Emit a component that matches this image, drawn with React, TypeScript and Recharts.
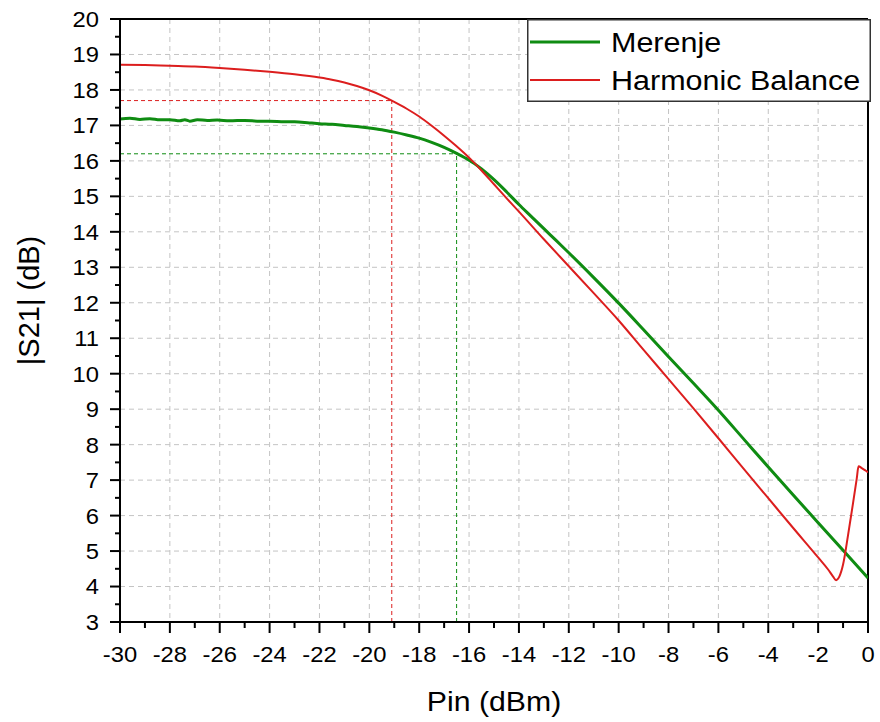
import React from 'react';
import { LineChart, Line, XAxis, YAxis, CartesianGrid, ReferenceLine, Legend } from 'recharts';

// Merenje (measurement)
const pinMeas = [-30, -29.6, -29.2, -28.8, -28.4, -28, -27.6, -27.4, -27.2, -26.9, -26.5, -26.1, -25.6, -25, -24.4, -24, -23.4, -23, -22.4, -22, -21.5, -21, -20.5, -20, -19.5, -19, -18.5, -18, -17.5, -17, -16.5, -16, -15.8, -15.5, -15, -14.5, -14, -13.5, -13, -12.5, -12, -11, -10, -9, -8, -7, -6, -5, -4, -3, -2, -1, 0];
const s21Meas = [17.18, 17.2, 17.17, 17.19, 17.16, 17.16, 17.13, 17.16, 17.12, 17.16, 17.14, 17.15, 17.13, 17.14, 17.12, 17.12, 17.1, 17.1, 17.07, 17.05, 17.03, 17.0, 16.97, 16.93, 16.88, 16.81, 16.73, 16.64, 16.52, 16.38, 16.21, 16.02, 15.93, 15.77, 15.47, 15.13, 14.77, 14.43, 14.09, 13.75, 13.41, 12.71, 11.99, 11.24, 10.48, 9.73, 8.97, 8.17, 7.37, 6.58, 5.8, 5.02, 4.24];

// Harmonic Balance (simulation)
const pinHB = [-30, -29, -28, -27, -26, -25, -24, -23, -22, -21.5, -21, -20.5, -20, -19.5, -19.1, -18.5, -18, -17.5, -17, -16.5, -16, -15.8, -15.5, -15, -14.5, -14, -13, -12, -11, -10, -9, -8, -7, -6, -5, -4, -3, -2, -1.6, -1.4, -1.28, -1.15, -1.0, -0.8, -0.6, -0.45, -0.38, -0.25, -0.1, 0];
const s21HB = [18.71, 18.7, 18.68, 18.66, 18.62, 18.57, 18.51, 18.44, 18.35, 18.29, 18.21, 18.11, 17.99, 17.84, 17.7, 17.47, 17.25, 16.99, 16.71, 16.41, 16.09, 15.95, 15.73, 15.34, 14.95, 14.57, 13.79, 13.03, 12.27, 11.5, 10.67, 9.85, 9.02, 8.18, 7.33, 6.49, 5.65, 4.82, 4.48, 4.28, 4.18, 4.28, 4.62, 5.45, 6.35, 7.05, 7.39, 7.34, 7.27, 7.22];

const seriesNames = ['Merenje', 'Harmonic Balance'];

// Dashed guide lines
const hbMarker = { pin: -19.1, s21: 17.7 };
const measMarker = { pin: -16.5, s21: 16.2 };

const xDomain = [-30, 0];
const yDomain = [3, 20];
const xMajorTicks = [-30, -28, -26, -24, -22, -20, -18, -16, -14, -12, -10, -8, -6, -4, -2, 0];
const yMajorTicks = [3, 4, 5, 6, 7, 8, 9, 10, 11, 12, 13, 14, 15, 16, 17, 18, 19, 20];
const xAllTicks = [-30, -29, -28, -27, -26, -25, -24, -23, -22, -21, -20, -19, -18, -17, -16, -15, -14, -13, -12, -11, -10, -9, -8, -7, -6, -5, -4, -3, -2, -1, 0];
const yAllTicks = [3, 3.5, 4, 4.5, 5, 5.5, 6, 6.5, 7, 7.5, 8, 8.5, 9, 9.5, 10, 10.5, 11, 11.5, 12, 12.5, 13, 13.5, 14, 14.5, 15, 15.5, 16, 16.5, 17, 17.5, 18, 18.5, 19, 19.5, 20];

const GREEN = '#0f8c12';
const RED = '#dc1e1e';
const FONT = '"Liberation Sans", Arial, sans-serif';

const measData = pinMeas.map((x, i) => ({ x, y: s21Meas[i] }));
const hbData = pinHB.map((x, i) => ({ x, y: s21HB[i] }));

const applyScale = (scale: any, v: number) => {
  if (!scale) return undefined;
  if (typeof scale === 'function') return scale(v);
  if (typeof scale.map === 'function') return scale.map(v);
  return undefined;
};

const vGen = (p: any) => {
  const off = p.offset;
  return xMajorTicks.map((v) => {
    const s = applyScale(p.xAxis && p.xAxis.scale, v);
    if (typeof s === 'number' && !isNaN(s)) return s;
    return off.left + ((v - xDomain[0]) / (xDomain[1] - xDomain[0])) * off.width;
  });
};

const hGen = (p: any) => {
  const off = p.offset;
  return yMajorTicks.map((v) => {
    const s = applyScale(p.yAxis && p.yAxis.scale, v);
    if (typeof s === 'number' && !isNaN(s)) return s;
    return off.top + (1 - (v - yDomain[0]) / (yDomain[1] - yDomain[0])) * off.height;
  });
};

// Text slightly widened horizontally, like the reference rendering
const WideText = (p: { x: number; y: number; sx: number; size: number; anchor?: string; dy?: string; children: any }) => (
  <text
    transform={`translate(${p.x} ${p.y}) scale(${p.sx} 1)`}
    x={0}
    y={0}
    dy={p.dy}
    textAnchor={p.anchor || 'start'}
    fontSize={p.size}
    fill="#000"
    fontFamily={FONT}
  >
    {p.children}
  </text>
);

const YTick = (props: any) => {
  const { x, y, payload } = props;
  const v = payload.value;
  const major = Math.abs(v - Math.round(v)) < 1e-6;
  return (
    <g>
      <line x1={x - (major ? 10 : 5)} x2={x} y1={y} y2={y} stroke="#000" strokeWidth={2} />
      {major && (
        <WideText x={x - 21} y={y} dy="0.36em" anchor="end" size={22} sx={1.08}>
          {v}
        </WideText>
      )}
    </g>
  );
};

const XTick = (props: any) => {
  const { x, y, payload } = props;
  const v = payload.value;
  const major = Math.round(v) % 2 === 0;
  return (
    <g>
      <line x1={x} x2={x} y1={y} y2={y + (major ? 11 : 6)} stroke="#000" strokeWidth={2} />
      {major && (
        <WideText x={x} y={y + 40} anchor="middle" size={22} sx={1.08}>
          {v}
        </WideText>
      )}
    </g>
  );
};

const LegendBox = () => (
  <svg width={344} height={83} style={{ display: 'block' }}>
    <rect x={0.75} y={0.75} width={342.5} height={81.5} fill="#fff" stroke="#333" strokeWidth={1.5} />
    <line x1={3} x2={73} y1={23} y2={23} stroke={GREEN} strokeWidth={3} />
    <WideText x={84} y={33} size={27} sx={1.13}>{seriesNames[0]}</WideText>
    <line x1={3} x2={73} y1={61} y2={61} stroke={RED} strokeWidth={2} />
    <WideText x={84} y={71} size={27} sx={1.13}>{seriesNames[1]}</WideText>
  </svg>
);

export default function App() {
  return (
    <div style={{ position: 'absolute', left: 0, top: 0, background: '#fff' }}>
      <LineChart
        width={880}
        height={722}
        margin={{ top: 19, right: 12, bottom: 0, left: 0 }}
        style={{ fontFamily: FONT }}
      >
        <CartesianGrid
          stroke="#c4c4c4"
          strokeDasharray="5 4"
          strokeWidth={1}
          verticalCoordinatesGenerator={vGen}
          horizontalCoordinatesGenerator={hGen}
        />
        <XAxis
          dataKey="x"
          type="number"
          domain={xDomain}
          ticks={xAllTicks}
          interval={0}
          allowDataOverflow
          height={100}
          tickSize={0}
          tickMargin={0}
          tickLine={false}
          axisLine={{ stroke: '#000', strokeWidth: 2 }}
          tick={<XTick />}
          label={{
            content: (p: any) => {
              const vb = p.viewBox;
              return (
                <WideText x={vb.x + vb.width / 2} y={vb.y + 89} anchor="middle" size={27} sx={1.12}>
                  Pin (dBm)
                </WideText>
              );
            },
          }}
        />
        <YAxis
          type="number"
          domain={yDomain}
          ticks={yAllTicks}
          interval={0}
          allowDataOverflow
          width={120}
          tickSize={0}
          tickMargin={0}
          tickLine={false}
          axisLine={{ stroke: '#000', strokeWidth: 2 }}
          tick={<YTick />}
          label={{
            content: (p: any) => {
              const vb = p.viewBox;
              const cx = vb.x + 29;
              const cy = vb.y + vb.height / 2 - 20;
              return (
                <text
                  x={cx}
                  y={cy}
                  transform={`rotate(-90 ${cx} ${cy})`}
                  textAnchor="middle"
                  dominantBaseline="central"
                  fontSize={29}
                  fill="#000"
                  fontFamily={FONT}
                >
                  |S21| (dB)
                </text>
              );
            },
          }}
        />
        <ReferenceLine y={yDomain[1]} stroke="#000" strokeWidth={2} />
        <ReferenceLine x={xDomain[1]} stroke="#000" strokeWidth={2} />
        <ReferenceLine
          segment={[{ x: xDomain[0], y: hbMarker.s21 }, { x: hbMarker.pin, y: hbMarker.s21 }]}
          stroke={RED}
          strokeDasharray="4 3"
          strokeWidth={1}
        />
        <ReferenceLine
          segment={[{ x: hbMarker.pin, y: yDomain[0] }, { x: hbMarker.pin, y: hbMarker.s21 }]}
          stroke={RED}
          strokeDasharray="4 3"
          strokeWidth={1}
        />
        <ReferenceLine
          segment={[{ x: xDomain[0], y: measMarker.s21 }, { x: measMarker.pin, y: measMarker.s21 }]}
          stroke={GREEN}
          strokeDasharray="4 3"
          strokeWidth={1}
        />
        <ReferenceLine
          segment={[{ x: measMarker.pin, y: yDomain[0] }, { x: measMarker.pin, y: measMarker.s21 }]}
          stroke={GREEN}
          strokeDasharray="4 3"
          strokeWidth={1}
        />
        <Line
          data={measData}
          dataKey="y"
          name={seriesNames[0]}
          type="monotone"
          stroke={GREEN}
          strokeWidth={3}
          dot={false}
          activeDot={false}
          isAnimationActive={false}
        />
        <Line
          data={hbData}
          dataKey="y"
          name={seriesNames[1]}
          type="monotone"
          stroke={RED}
          strokeWidth={2}
          dot={false}
          activeDot={false}
          isAnimationActive={false}
        />
        <Legend
          layout="horizontal"
          verticalAlign="middle"
          align="center"
          content={() => <LegendBox />}
          wrapperStyle={{ position: 'absolute', left: 527, top: 19, width: 344, height: 83 }}
        />
      </LineChart>
    </div>
  );
}
